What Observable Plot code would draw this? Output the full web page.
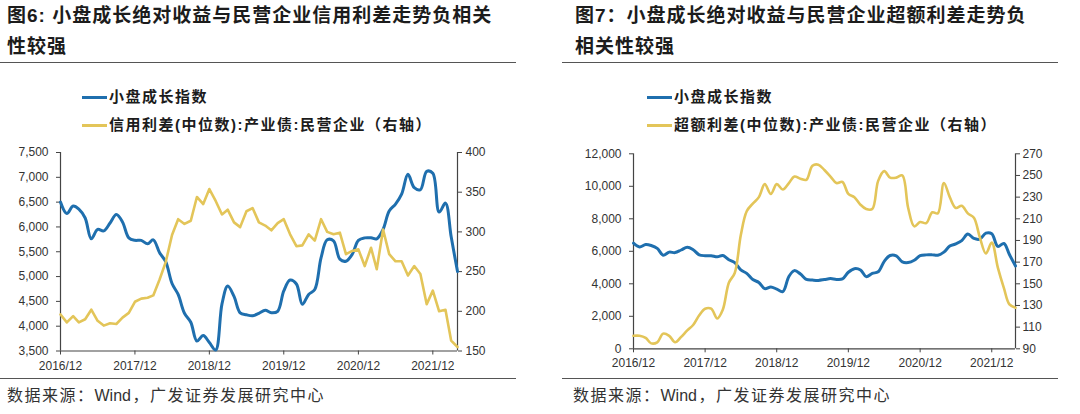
<!DOCTYPE html>
<html><head><meta charset="utf-8">
<script src="https://cdn.jsdelivr.net/npm/d3@7"></script>
<script src="https://cdn.jsdelivr.net/npm/@observablehq/plot@0.6"></script>
<style>
body{margin:0;background:#fff;}
#page{position:relative;width:1080px;height:414px;overflow:hidden;font-family:"Liberation Sans","Noto Sans CJK SC",sans-serif;color:#1c1c1c;background:#fff;}
.title{position:absolute;top:0;font-size:19px;font-weight:bold;line-height:31px;letter-spacing:1px;white-space:nowrap;}
.rule{position:absolute;height:0;border-top:1.5px solid #555;}
.leg{position:absolute;font-size:15px;font-weight:bold;letter-spacing:1.5px;line-height:20px;white-space:nowrap;color:#1c1c1c;}
.leg i{display:inline-block;width:25px;height:3px;vertical-align:middle;margin-right:2px;position:relative;top:-1px;}
.src{position:absolute;font-size:16px;letter-spacing:1.5px;line-height:20px;color:#333;white-space:nowrap;}
.src span{letter-spacing:0;margin-right:1.5px;}
.chart{position:absolute;top:140px;}
</style></head>
<body>
<div id="page">
  <div class="title" style="left:7px">图6: 小盘成长绝对收益与民营企业信用利差走势负相关<br>性较强</div>
  <div class="rule" style="left:0;width:516px;top:62px"></div>
  <div class="leg" style="left:82px;top:87px"><i style="background:#1f6fae"></i>小盘成长指数</div>
  <div class="leg" style="left:82px;top:115px"><i style="background:#e3c559"></i>信用利差(中位数):产业债:民营企业（右轴）</div>
  <div class="chart" id="c6" style="left:0"></div>
  <div class="rule" style="left:0;width:516px;top:378px"></div>
  <div class="src" style="left:7px;top:386px">数据来源：<span>Wind</span>，广发证券发展研究中心</div>

  <div class="title" style="left:575px">图7：小盘成长绝对收益与民营企业超额利差走势负<br>相关性较强</div>
  <div class="rule" style="left:562px;width:496px;top:62px"></div>
  <div class="leg" style="left:647px;top:87px"><i style="background:#1f6fae"></i>小盘成长指数</div>
  <div class="leg" style="left:647px;top:115px"><i style="background:#e3c559"></i>超额利差(中位数):产业债:民营企业（右轴）</div>
  <div class="chart" id="c7" style="left:540px"></div>
  <div class="rule" style="left:562px;width:496px;top:378px"></div>
  <div class="src" style="left:573px;top:386px">数据来源：<span>Wind</span>，广发证券发展研究中心</div>
</div>
<script>
const months = [
 "2016-12",
 "2017-01","2017-02","2017-03","2017-04","2017-05","2017-06","2017-07","2017-08","2017-09","2017-10","2017-11","2017-12",
 "2018-01","2018-02","2018-03","2018-04","2018-05","2018-06","2018-07","2018-08","2018-09","2018-10","2018-11","2018-12",
 "2019-01","2019-02","2019-03","2019-04","2019-05","2019-06","2019-07","2019-08","2019-09","2019-10","2019-11","2019-12",
 "2020-01","2020-02","2020-03","2020-04","2020-05","2020-06","2020-07","2020-08","2020-09","2020-10","2020-11","2020-12",
 "2021-01","2021-02","2021-03","2021-04","2021-05","2021-06","2021-07","2021-08","2021-09","2021-10","2021-11","2021-12",
 "2022-01","2022-02","2022-03","2022-04"
];
// 小盘成长指数 (left axis, both charts)
const smallGrowth = [
 6500,
 6270,6420,6360,6180,5760,5950,5920,6080,6250,6100,5780,5730,
 5730,5660,5740,5480,5300,4860,4640,4260,4080,3700,3810,3670,
 3520,4450,4810,4600,4270,4230,4210,4260,4320,4270,4300,4710,
 4930,4850,4440,4640,4740,5380,5740,5720,5350,5310,5450,5730,
 5780,5780,5760,5950,6320,6460,6660,7060,6790,6750,7120,7080,
 6300,6480,5800,5100
];
// 信用利差(中位数):产业债:民营企业 (right axis, chart 6)
const creditSpread = [
 196,
 186,194,186,190,202,188,182,185,184,192,198,212,
 216,217,220,240,262,296,316,310,314,344,335,354,
 339,322,328,312,306,326,330,312,308,302,311,316,
 297,282,283,297,289,316,300,297,299,272,276,278,
 257,280,253,303,272,263,263,245,257,247,209,226,
 200,202,163,155
];
// 超额利差(中位数):产业债:民营企业 (right axis, chart 7)
const excessSpread = [
 102,
 102,100,95,96,104,102,96,101,107,112,121,127,
 127,118,126,151,160,195,217,224,230,242,233,242,
 237,243,249,247,246,259,260,255,249,243,244,233,
 230,223,219,219,245,254,248,248,250,220,203,207,
 206,216,215,243,230,220,222,215,211,193,178,188,
 165,146,131,128
];
const xTickLabels = ["2016-12","2017-12","2018-12","2019-12","2020-12","2021-12"];
const leftTicks6 = [3500,4000,4500,5000,5500,6000,6500,7000,7500];
const rightTicks6 = [150,200,250,300,350,400];
const leftTicks7 = [0,2000,4000,6000,8000,10000,12000];
const rightTicks7 = [90,110,130,150,170,190,210,230,250,270];

const BLUE = "#1f6fae", YELLOW = "#e3c559", AXIS = "#444";
const parse = d3.utcParse("%Y-%m");
const dates = months.map(parse);
const xTicks = xTickLabels.map(parse);

function makeChart({yTicks, rTicks, yellow, yellowCurve, marginLeft, marginRight, marginTop, marginBottom, yPad, rPad}) {
  const yDomain = [yTicks[0], yTicks[yTicks.length - 1]];
  const rDomain = [rTicks[0], rTicks[rTicks.length - 1]];
  const toLeft = d3.scaleLinear().domain(rDomain).range(yDomain);
  const data = dates.map((d, i) => ({date: d, blue: smallGrowth[i], yellow: toLeft(yellow[i])}));
  const xDomain = [dates[0], dates[dates.length - 1]];
  return Plot.plot({
    width: 540, height: 236,
    marginLeft, marginRight, marginTop, marginBottom,
    style: {fontSize: "12px", fontFamily: "Liberation Sans, Arial, sans-serif", color: "#333", background: "transparent"},
    x: {type: "utc", domain: xDomain, label: null},
    y: {domain: yDomain, label: null},
    marks: [
      Plot.ruleY([yDomain[0]], {stroke: AXIS, strokeWidth: 1.2}),
      Plot.ruleX([xDomain[0], xDomain[1]], {stroke: AXIS, strokeWidth: 1.2}),
      Plot.axisX(xTicks, {tickFormat: d3.utcFormat("%Y/%m"), tickSize: 4, tickPadding: 6, stroke: AXIS}),
      Plot.axisY(yTicks, {anchor: "left", tickFormat: d3.format(","), tickSize: 4, tickPadding: yPad, stroke: AXIS}),
      Plot.axisY(rTicks.map(toLeft), {anchor: "right", tickFormat: d => String(Math.round(toLeft.invert(d))), tickSize: 4, tickPadding: rPad, stroke: AXIS}),
      Plot.lineY(data, {x: "date", y: "blue", stroke: BLUE, strokeWidth: 3, curve: "catmull-rom"}),
      Plot.lineY(data, {x: "date", y: "yellow", stroke: YELLOW, strokeWidth: 2.6, curve: yellowCurve})
    ]
  });
}

document.getElementById("c6").append(makeChart({
  yTicks: leftTicks6, rTicks: rightTicks6, yellow: creditSpread, yellowCurve: "linear",
  marginLeft: 60, marginRight: 83, marginTop: 12, marginBottom: 25.5, yPad: 8, rPad: 4
}));
document.getElementById("c7").append(makeChart({
  yTicks: leftTicks7, rTicks: rightTicks7, yellow: excessSpread, yellowCurve: "catmull-rom",
  marginLeft: 93, marginRight: 65, marginTop: 13.3, marginBottom: 27.7, yPad: 8, rPad: 3
}));
</script>
</body></html>
